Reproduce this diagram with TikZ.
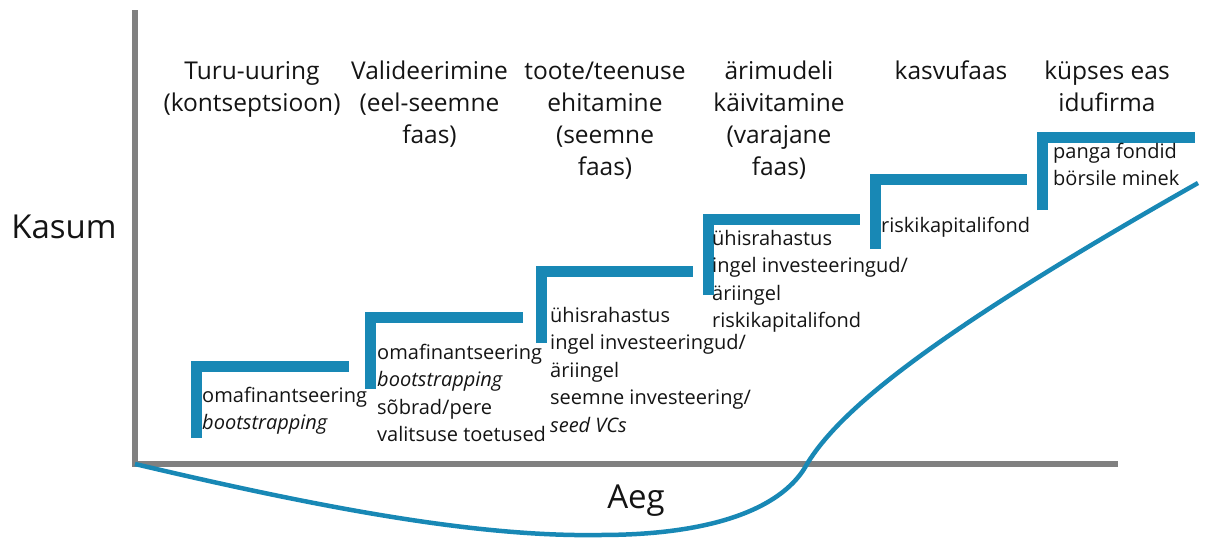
\documentclass[tikz,border=0pt]{standalone}
\usepackage{fontspec}
\setmainfont{Open Sans}
\definecolor{stepblue}{RGB}{24,136,181}
\definecolor{axisgray}{RGB}{128,128,128}
\definecolor{txt}{RGB}{20,20,20}
\begin{document}
\begin{tikzpicture}[x=1pt,y=-1pt,
  stepline/.style={draw=stepblue,line width=11pt,line join=miter,line cap=butt},
  axisline/.style={draw=axisgray,line width=5.5pt,line join=miter},
  growth/.style={draw=stepblue,line width=4.5pt},
  phase/.style={font=\fontsize{24.5}{32}\selectfont,align=center,anchor=north,inner sep=0pt,text=txt},
  fund/.style={font=\fontsize{20}{27.5}\selectfont,align=left,anchor=north west,inner sep=0pt,text=txt},
  axislabel/.style={font=\fontsize{33}{40}\selectfont,inner sep=0pt,text=txt}]
\useasboundingbox (0,0) rectangle (1205,538);
% axes
\coordinate (ytop) at (135,10);
\coordinate (o) at (135,464);
\coordinate (xend) at (1118,464);
\draw[axisline] (ytop) -- (o) -- (xend);
% growth curve
\coordinate (gend) at (1198,183);
\draw[growth] (o) .. controls (330,510) and (480,537) .. (600,535)
  .. controls (720,535) and (785,505) .. (807,464)
  .. controls (840,410) and (930,335) .. (gend);
% steps
\coordinate (b1) at (196.5,438); \coordinate (r1) at (349,366.5);
\coordinate (b2) at (370.5,389); \coordinate (r2) at (523,317.5);
\coordinate (b3) at (541.5,343); \coordinate (r3) at (693,271.5);
\coordinate (b4) at (708,295);   \coordinate (r4) at (860,219.5);
\coordinate (b5) at (875,249);   \coordinate (r5) at (1027,179);
\coordinate (b6) at (1042.5,210); \coordinate (r6) at (1195,137.5);
\foreach \i in {1,...,6}{\draw[stepline] (b\i) |- (r\i);}
% phase labels
\node[phase] (p1) at (252,56.5) {\strut Turu-uuring\\(kontseptsioon)};
\node[phase] (p2) at (429.5,56.5) {\strut Valideerimine\\(eel-seemne\\faas)};
\node[phase] (p3) at (605,56.5) {\strut toote/teenuse\\ehitamine\\(seemne\\faas)};
\node[phase] (p4) at (779,56.5) {\strut ärimudeli\\käivitamine\\(varajane\\faas)};
\node[phase] (p5) at (951,56.5) {\strut kasvufaas};
\node[phase] (p6) at (1107,56.5) {\strut küpses eas\\idufirma};
% funding labels
\node[fund] (f1) at (202,382.75) {\strut omafinantseering\\\textit{bootstrapping}};
\node[fund] (f2) at (377,339.75) {\strut omafinantseering\\\textit{bootstrapping}\\sõbrad/pere\\valitsuse toetused};
\node[fund] (f3) at (550,302.75) {\strut ühisrahastus\\ingel investeeringud/\\äriingel\\seemne investeering/\\\textit{seed VCs}};
\node[fund] (f4) at (712,225.75) {\strut ühisrahastus\\ingel investeeringud/\\äriingel\\riskikapitalifond};
\node[fund] (f5) at (881,213.5) {\strut riskikapitalifond};
\node[fund] (f6) at (1053,138.75) {\strut panga fondid\\börsile minek};
% axis labels
\node[axislabel] (ylab) at (64,227) {Kasum};
\node[axislabel,anchor=base] (xlab) at (636,508) {Aeg};
\end{tikzpicture}
\end{document}
